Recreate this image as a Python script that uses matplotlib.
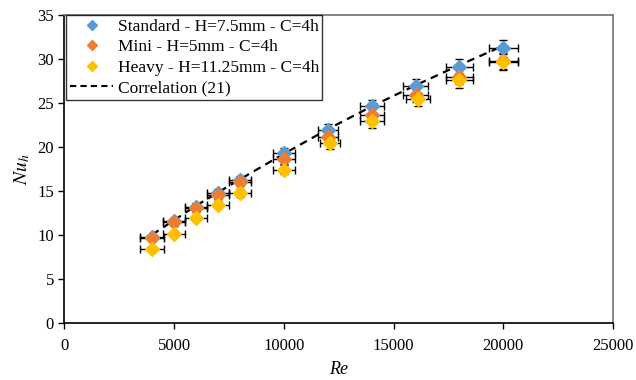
import numpy as np
import matplotlib
matplotlib.use("Agg")
import matplotlib.pyplot as plt
from matplotlib.lines import Line2D

plt.rcParams['font.family'] = ['Liberation Serif', 'DejaVu Serif']
plt.rcParams['mathtext.fontset'] = 'stix'

# Donnees
re_std = [4000, 5000, 6000, 7000, 8000, 10000, 12000, 14000, 16000, 18000, 20000]
nu_std = [9.7, 11.6, 13.2, 14.7, 16.2, 19.3, 21.9, 24.6, 26.9, 29.1, 31.2]

re_mini = [4000, 5000, 6000, 7000, 8000, 10000, 12000, 14000, 16000, 18000, 20000]
nu_mini = [9.6, 11.4, 13.0, 14.5, 16.0, 18.6, 21.1, 23.6, 25.9, 28.0, 29.8]

re_heavy = [4000, 5000, 6000, 7000, 8000, 10000, 12100, 14000, 16100, 18000, 20000]
nu_heavy = [8.4, 10.1, 11.9, 13.4, 14.7, 17.4, 20.4, 22.9, 25.4, 27.6, 29.7]

# barres d'erreur (Re +/-, Nu +/-)
re_err = [550, 500, 500, 500, 500, 500, 450, 550, 550, 600, 650]
nu_err_std = [0.3, 0.35, 0.4, 0.45, 0.5, 0.6, 0.65, 0.75, 0.8, 0.9, 0.95]
nu_err_mini = [0.3, 0.35, 0.4, 0.45, 0.5, 0.55, 0.65, 0.7, 0.8, 0.85, 0.9]
nu_err_heavy = [0.25, 0.3, 0.35, 0.4, 0.45, 0.5, 0.6, 0.7, 0.75, 0.85, 0.9]

# Correlation (21)
re_corr = [4000, 6000, 8000, 10000, 12000, 14000, 16000, 18000, 20000]
nu_corr = [10.0, 13.3, 16.3, 19.2, 22.0, 24.6, 27.0, 29.3, 31.5]

c_std = '#5B9BD5'
c_mini = '#ED7D31'
c_heavy = '#FFC000'

fig = plt.figure(figsize=(6.36, 3.8), dpi=100)
ax = fig.add_axes([0.101, 0.151, 0.863, 0.8095])

ax.plot(re_corr, nu_corr, linestyle=(0, (3.5, 2.5)), color='black', lw=1.6, zorder=2)

for re, nu, err, col in [(re_std, nu_std, nu_err_std, c_std),
                         (re_mini, nu_mini, nu_err_mini, c_mini),
                         (re_heavy, nu_heavy, nu_err_heavy, c_heavy)]:
    ax.errorbar(re, nu, xerr=re_err, yerr=err, fmt='D', color=col, ms=7,
                mec=col, ecolor='black', elinewidth=1.0, capsize=3, capthick=1.0,
                zorder=3)

ax.set_xlim(0, 25000)
ax.set_ylim(0, 35)
ax.set_xticks(np.arange(0, 25001, 5000))
ax.set_yticks(np.arange(0, 36, 5))
ax.tick_params(labelsize=12, direction='out', length=4, width=1, colors='black')
ax.tick_params(axis='x', pad=7)

for s in ['left', 'bottom']:
    ax.spines[s].set_color('black')
    ax.spines[s].set_linewidth(1.2)
for s in ['top', 'right']:
    ax.spines[s].set_color('#707070')
    ax.spines[s].set_linewidth(1.2)

ax.set_xlabel('Re', fontsize=13, style='italic', labelpad=5)
ax.set_ylabel('$Nu_h$', fontsize=14, labelpad=4)

handles = [
    Line2D([], [], marker='D', ls='none', color=c_std, ms=5),
    Line2D([], [], marker='D', ls='none', color=c_mini, ms=5),
    Line2D([], [], marker='D', ls='none', color=c_heavy, ms=5),
    Line2D([], [], ls=(0, (3, 2)), color='black', lw=1.5),
]
labels = ['Standard - H=7.5mm - C=4h', 'Mini - H=5mm - C=4h',
          'Heavy - H=11.25mm - C=4h', 'Correlation (21)']
leg = ax.legend(handles, labels, loc='upper left', bbox_to_anchor=(0.004, 1.0),
                fontsize=12.5, frameon=True, fancybox=False, borderpad=0.2,
                labelspacing=0.25, handlelength=2.5, handletextpad=0.25,
                borderaxespad=0)
leg.get_frame().set_edgecolor('black')
leg.get_frame().set_linewidth(1.0)

fig.savefig('out.png', dpi=100)
